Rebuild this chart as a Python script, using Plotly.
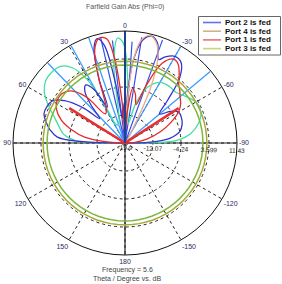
import plotly.graph_objects as go

R_MIN = -19.9
R_MAX = 11.43
radial_ticks = [-19.9, -12.07, -4.24, 3.59, 11.43]
radial_labels = ["-19.9", "-12.07", "-4.24", "3.599", "11.43"]
ang_ticks = [0, 30, 60, 90, 120, 150, 180, 210, 240, 270, 300, 330]
ang_labels = ["0", "30", "60", "90", "120", "150", "180", "-150", "-120", "-90", "-60", "-30"]

legend_names = ["Port 2 is fed", "Port 4 is fed", "Port 1 is fed", "Port 3 is fed"]
legend_colors = ["#6c6cec", "#d4b08c", "#f07070", "#c8d878"]

# Port 2 (blue)
p2_theta = [90, 88, 85, 80, 75, 70, 65, 60, 55, 50, 46, 42, 38, 34, 30, 26, 22, 18, 15, 12, 9, 6, 3, 0,
            -3, -6, -10, -14, -18, -22, -25, -30, -35, -40, -45, -50, -55, -60, -66, -72, -78, -84, -88, -90]
p2_r = [-19.9, -7.3, -0.9, 1.4, 3.0, 4.2, 4.2, 3.6, 0.8, -4.5, -10.1, -5.9, -1.7, -0.3, -2.6, -8.7, -0.3, 8.1, 10.3, 8.1, -3.1, -12.9, -8.7, -14.3,
        -5.9, 3.9, 9.5, 10.9, 9.5, 5.3, 6.7, 8.1, 7.5, 3.9, -3.1, -7.3, -4.5, -2.6, -2.6, -3.1, -4.2, -7.3, -12.9, -19.9]

# Port 1 (red)
p1_theta = [90, 86, 82, 76, 70, 64, 58, 52, 46, 40, 34, 28, 22, 18, 14, 10, 7, 4, 0,
            -4, -8, -12, -16, -20, -25, -30, -34, -38, -42, -46, -50, -55, -60, -66, -72, -80, -86, -90]
p1_r = [-19.9, -14.3, -8.7, -4.5, -0.9, 1.4, 2.5, 2.5, 1.1, -3.1, -10.1, -8.7, -0.3, 7.5, 10.3, 9.7, 3.9, -8.7, -17.1,
        -11.5, -4.5, -5.9, -8.7, -3.1, 4.7, 7.2, 6.7, 4.7, 2.5, 1.4, 0.2, -0.9, -2.6, -5.9, -9.3, -13.7, -17.1, -19.9]

# Port 1 narrow side beams
p1b_theta = [58, 58, -57, -57]
p1b_r = [-19.9, -1.5, -19.9, -2.0]

# Port 4 (salmon lobe)
p4_theta = [0, -3, -6, -9, -13, -17, -21, -25, -28, -30]
p4_r = [-19.9, -8.7, 3.9, 9.2, 10.9, 9.7, 5.8, -3.1, -14.3, -19.9]

# teal pattern (not in legend)
tl_theta = [90, 87, 82, 76, 70, 64, 58, 52, 46, 40, 35, 31, 28, 25, 18, 12, 8, 4, 1, -2, -5, -10,
            -15, -22, -30, -38, -45, -52, -60, -68, -75, -82, -87, -90]
tl_r = [-19.9, -5.9, -2.6, -0.9, 1.1, 3.9, 6.7, 8.3, 8.6, 8.1, 5.8, 1.1, -7.3, -14.3, -14.3, -11.5, 2.5, 9.5, 8.1, -0.3, -11.5, -14.3,
        -8.7, -3.1, -0.3, 0.2, 0.2, 1.4, 3.0, 3.0, 1.4, -1.4, -5.4, -19.9]

# light-blue narrow beams
lb_theta = [44, 44, 29, 29, 19, 19, -30, -30, -50, -50]
lb_r = [-19.9, 11.2, -19.9, 11.2, -19.9, 11.2, -19.9, 11.2, -19.9, 11.2]

# medium-blue narrow beams
mb_theta = [13, 13, 7, 7, -4, -4, -9, -9, -20, -20]
mb_r = [-19.9, 10.5, -19.9, 9.0, -19.9, 8.5, -19.9, 10.0, -19.9, 10.8]

# constant-gain circles
circ_theta = list(range(0, 361, 5))
p3_r = [3.0] * len(circ_theta)
c2_r = [1.9] * len(circ_theta)

fig = go.Figure()

# solid axes through centre
fig.add_trace(go.Scatterpolar(theta=[0, 180], r=[R_MAX, R_MAX], mode="lines",
                              line=dict(color="#222222", width=1.2), showlegend=False, hoverinfo="skip"))
fig.add_trace(go.Scatterpolar(theta=[90, 270], r=[R_MAX, R_MAX], mode="lines",
                              line=dict(color="#222222", width=1.2), showlegend=False, hoverinfo="skip"))

fig.add_trace(go.Scatterpolar(theta=lb_theta, r=lb_r, mode="lines",
                              line=dict(color="#3a9cff", width=1.3), showlegend=False))
fig.add_trace(go.Scatterpolar(theta=mb_theta, r=mb_r, mode="lines",
                              line=dict(color="#3550e8", width=1.2), showlegend=False))
fig.add_trace(go.Scatterpolar(theta=tl_theta, r=tl_r, mode="lines", line_shape="spline",
                              line=dict(color="#3ee0a0", width=1.3), showlegend=False))

fig.add_trace(go.Scatterpolar(theta=p2_theta, r=p2_r, mode="lines", line_shape="spline",
                              name=legend_names[0], line=dict(color="#3434d0", width=1.3), showlegend=False))
fig.add_trace(go.Scatterpolar(theta=p4_theta, r=p4_r, mode="lines", line_shape="spline",
                              name=legend_names[1], line=dict(color="#eeaa8a", width=1.3), showlegend=False))
fig.add_trace(go.Scatterpolar(theta=p1_theta, r=p1_r, mode="lines", line_shape="spline",
                              name=legend_names[2], line=dict(color="#e82828", width=1.3), showlegend=False))
fig.add_trace(go.Scatterpolar(theta=p1b_theta, r=p1b_r, mode="lines",
                              line=dict(color="#e83030", width=2.6), showlegend=False))
fig.add_trace(go.Scatterpolar(theta=circ_theta, r=p3_r, mode="lines",
                              name=legend_names[3], line=dict(color="#a8a838", width=1.5), showlegend=False))
fig.add_trace(go.Scatterpolar(theta=circ_theta, r=c2_r, mode="lines",
                              line=dict(color="#7cb840", width=1.5), showlegend=False))
fig.add_trace(go.Scatterpolar(theta=[0, 0], r=[R_MIN, R_MAX], mode="lines",
                              line=dict(color="#1f3f8f", width=2), showlegend=False))

W, H = 282, 284


def px(x):
    return x / W


def py(y):
    return 1 - y / H


# manual legend (box, sample lines, labels)
shapes = [dict(type="rect", xref="paper", yref="paper", x0=px(198.5), x1=px(280.5), y0=py(55), y1=py(16.5),
               line=dict(color="#666666", width=1), fillcolor="white", layer="above")]
annotations = []
row_y = [22.5, 31.2, 39.9, 48.6]
for name, col, yy in zip(legend_names, legend_colors, row_y):
    shapes.append(dict(type="line", xref="paper", yref="paper", x0=px(203), x1=px(221), y0=py(yy), y1=py(yy),
                       line=dict(color=col, width=1.6), layer="above"))
    annotations.append(dict(text="<b>" + name + "</b>", x=px(223), y=py(yy), xref="paper", yref="paper",
                            xanchor="left", yanchor="middle", showarrow=False,
                            font=dict(size=8, color="#111111")))

annotations += [
    dict(text="Farfield Gain Abs (Phi=0)", x=px(125), y=py(7), xref="paper", yref="paper",
         xanchor="center", yanchor="middle", showarrow=False, font=dict(size=7, color="#555555")),
    dict(text="Frequency = 5.6", x=px(127), y=py(270), xref="paper", yref="paper",
         xanchor="center", yanchor="middle", showarrow=False, font=dict(size=7, color="#444444")),
    dict(text="Theta / Degree vs. dB", x=px(127), y=py(278.5), xref="paper", yref="paper",
         xanchor="center", yanchor="middle", showarrow=False, font=dict(size=7, color="#444444")),
]

fig.update_layout(
    width=W, height=H,
    margin=dict(l=0, r=0, t=0, b=0),
    paper_bgcolor="white",
    showlegend=False,
    font=dict(family="Liberation Sans, Arial, sans-serif", size=7, color="#333333"),
    polar=dict(
        domain=dict(x=[px(13), px(237)], y=[py(255), py(31)]),
        bgcolor="white",
        angularaxis=dict(rotation=90, direction="counterclockwise",
                         tickmode="array", tickvals=ang_ticks, ticktext=ang_labels,
                         showline=True, linecolor="#111111", linewidth=1,
                         showgrid=True, gridcolor="#222222", griddash="dot", gridwidth=1,
                         ticks="", tickfont=dict(size=7, color="#2a2a60")),
        radialaxis=dict(range=[R_MIN, R_MAX], angle=-1.5, tickmode="array",
                        tickvals=radial_ticks, ticktext=radial_labels,
                        showline=False, ticks="", showgrid=True, gridcolor="#222222",
                        griddash="dot", gridwidth=1, tickfont=dict(size=6.5, color="#222222"),
                        side="clockwise"),
    ),
    shapes=shapes,
    annotations=annotations,
)

fig.write_html("out.html")
